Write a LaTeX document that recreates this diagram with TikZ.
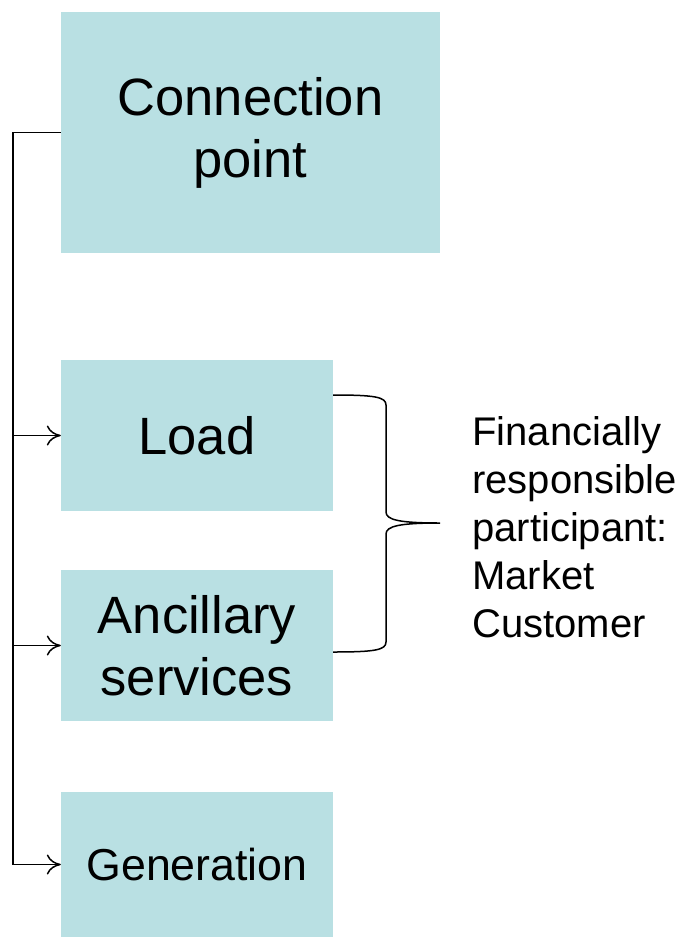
\documentclass[tikz,border=0pt]{standalone}
\usepackage{fontspec}
\setmainfont{Liberation Sans}
\usetikzlibrary{positioning,arrows.meta}
\definecolor{boxcyan}{RGB}{185,224,227}
\begin{document}
\begin{tikzpicture}[x=1pt,y=-1pt,
  block/.style={fill=boxcyan,draw=none,inner sep=0pt,align=center,
    minimum width=272pt,minimum height=151pt,font=\fontsize{52.5}{62}\selectfont},
  feed/.style={line width=1.5pt,-{To[length=14pt,width=20pt,line width=1.5pt]}},
  bigline/.style={line width=1.5pt}]
\useasboundingbox (0,0) rectangle (679,937);
\node[block,minimum width=379pt,minimum height=241pt] (conn) at (250.5,132.5) {Connection\\point};
\node[block] (load) at (197,435.5) {Load};
\node[block] (anc) at (197,645.5) {Ancillary\\services};
\node[block,minimum height=145pt,font=\fontsize{44.7}{53}\selectfont] (gen) at (197,864.5) {Generation};
\node[anchor=west,align=left,inner sep=0pt,font=\fontsize{40}{48}\selectfont] (fin) at (472,527)
  {Financially\\responsible\\participant:\\Market\\Customer};
\coordinate (trunk) at (13,132.5);
\draw[bigline] (conn.west) -- (trunk) -- (trunk |- gen.west);
\draw[feed] (trunk |- gen.west) -- (gen.west);
\draw[feed] (trunk |- load.west) -- (load.west);
\draw[feed] (trunk |- anc.west) -- (anc.west);
% brace
\coordinate (btop) at (333,395);
\coordinate (bbot) at (333,652);
\coordinate (btip) at (440,523);
\draw[bigline] (btop) .. controls (375,395) and (386,397) .. (386,405) -- (386,512)
  .. controls (386,520) and (400,523) .. (btip)
  .. controls (400,523) and (386,526) .. (386,534) -- (386,642)
  .. controls (386,650) and (375,652) .. (bbot);
\end{tikzpicture}
\end{document}
